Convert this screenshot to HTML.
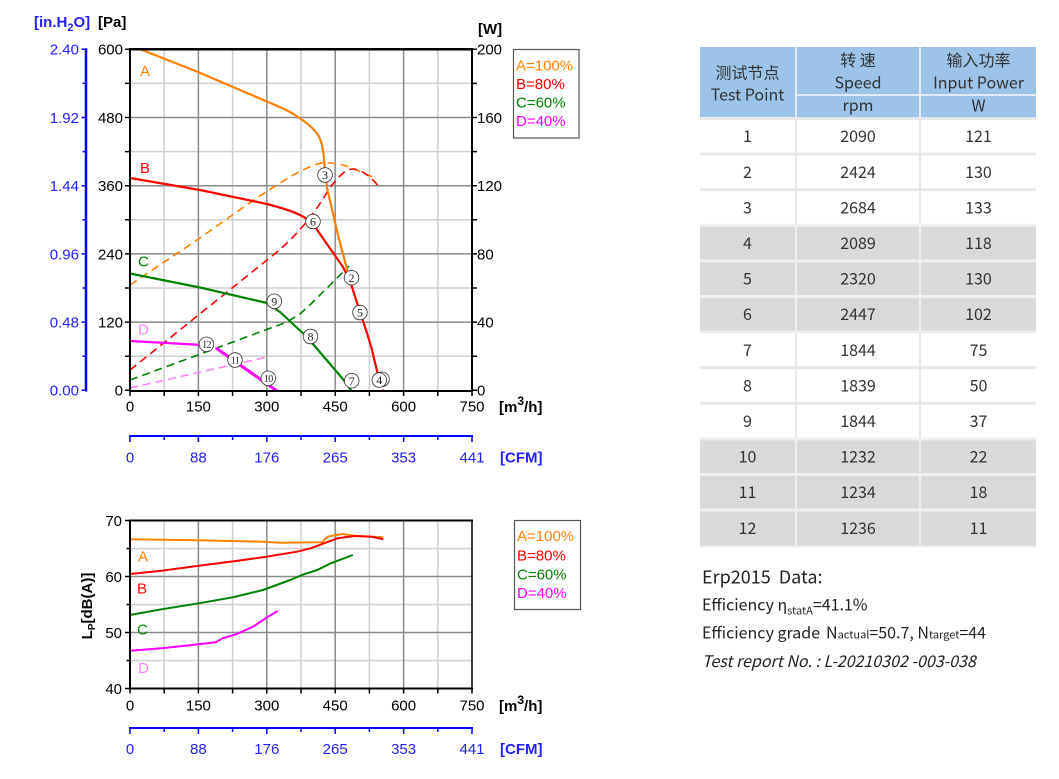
<!DOCTYPE html>
<html><head><meta charset="utf-8"><style>
html,body{margin:0;padding:0;background:#fff;}
svg{display:block;}
.ax{font-family:"Liberation Sans",Arial,sans-serif;font-size:15px;}
.b{font-weight:bold;}
.nt{font-family:"Noto Sans CJK SC","Liberation Sans",sans-serif;fill:#333;}
.cn{font-family:"Liberation Serif",serif;fill:#222;}
</style></head><body>
<svg width="1059" height="779" viewBox="0 0 1059 779" xmlns="http://www.w3.org/2000/svg">
<rect width="1059" height="779" fill="#fff"/>

<!-- ============ TOP CHART ============ -->
<g fill="none" stroke-width="1.5">
<path stroke="#cfcfcf" d="M164.2,49.3V391M232.6,49.3V391M301,49.3V391M369.4,49.3V391M437.8,49.3V391M130,356.2H472M130,288H472M130,219.8H472M130,151.6H472M130,83.4H472"/>
<path stroke="#8a8a8a" d="M198.4,49.3V391M266.8,49.3V391M335.2,49.3V391M403.6,49.3V391M130,322.1H472M130,253.9H472M130,185.7H472M130,117.5H472"/>
</g>

<g fill="none" stroke-linejoin="round" stroke-linecap="butt">
<path stroke="#ff8000" stroke-width="1.6" stroke-dasharray="8 5" d="M130,285 L200,238 L255,199 L280,183 Q305,167 323,162.5 Q340,163 352,168 L377,179"/>
<path stroke="#ff0000" stroke-width="1.6" stroke-dasharray="8 5" d="M130,370 L267,260 Q300,235 323,199 Q340,170 352,169 Q365,169 380,188"/>
<path stroke="#008000" stroke-width="1.6" stroke-dasharray="8 5" d="M130,380 L287,322 L300,314 L313,302 L349,266"/>
<path stroke="#ff80ff" stroke-width="1.6" stroke-dasharray="8 5" d="M130,388 L267,357"/>
<path stroke="#ff8000" stroke-width="2.2" d="M141,49.5 L198,72 L268,102 Q290,111 298,117 Q312,126 318,135 Q323,143 324,160 L327,188 L338,235 L348,273"/>
<path stroke="#ff0000" stroke-width="2.2" d="M130,178 L200,190 L267,204 Q290,210 300,215 Q308,219 313,224 L343,267 L350,281 L352,287 L360,312 L367,333 L372,350 L378,375"/>
<path stroke="#008000" stroke-width="2.2" d="M130,273.5 L200,287.5 L267,303 L280,312 L307,337 L342,378 L351,390"/>
<path stroke="#ff00ff" stroke-width="2.2" d="M130,341 L212,345.5"/>
<path stroke="#ff00ff" stroke-width="3" d="M216,348 L277,391"/>
</g>
<circle cx="383" cy="390.5" r="1.3" fill="#ff0000"/>
<circle cx="351" cy="390.5" r="1.3" fill="#008000"/>

<g stroke="#000" fill="none">
<path stroke-width="2.5" d="M129,49.3H473"/>
<path stroke-width="2" d="M130,48.5V392M472,48.5V392M129,391H473"/>
<path stroke-width="1.5" d="M125,390.3H130M125,356.2H130M125,322.1H130M125,288H130M125,253.9H130M125,219.8H130M125,185.7H130M125,151.6H130M125,117.5H130M125,83.4H130M125,49.3H130
M472,390.3H477M472,356.2H477M472,322.1H477M472,288H477M472,253.9H477M472,219.8H477M472,185.7H477M472,151.6H477M472,117.5H477M472,83.4H477M472,49.3H477
M130,391V396M164.2,391V396M198.4,391V396M232.6,391V396M266.8,391V396M301,391V396M335.2,391V396M369.4,391V396M403.6,391V396M437.8,391V396M472,391V396"/>
</g>
<g stroke="#0000ff" fill="none">
<path stroke-width="2.5" d="M86,48.3V391.5"/>
<path stroke-width="1.5" d="M81.5,390.3H86M82.5,356.2H86M81.5,322.1H86M82.5,288H86M81.5,253.9H86M82.5,219.8H86M81.5,185.7H86M82.5,151.6H86M81.5,117.5H86M82.5,83.4H86M81.5,49.3H86"/>
</g>

<g class="ax" fill="#000" text-anchor="end">
<text x="123" y="395.7">0</text><text x="123" y="327.5">120</text><text x="123" y="259.3">240</text><text x="123" y="191.1">360</text><text x="123" y="122.9">480</text><text x="123" y="54.7">600</text>
</g>
<g class="ax" fill="#1f1fff" text-anchor="end">
<text x="79" y="395.7">0.00</text><text x="79" y="327.5">0.48</text><text x="79" y="259.3">0.96</text><text x="79" y="191.1">1.44</text><text x="79" y="122.9">1.92</text><text x="79" y="54.7">2.40</text>
</g>
<g class="ax" fill="#000" text-anchor="start">
<text x="477" y="395.7">0</text><text x="477" y="327.5">40</text><text x="477" y="259.3">80</text><text x="477" y="191.1">120</text><text x="477" y="122.9">160</text><text x="477" y="54.7">200</text>
</g>
<g class="ax" fill="#000" text-anchor="middle">
<text x="130" y="411.4">0</text><text x="198.4" y="411.4">150</text><text x="266.8" y="411.4">300</text><text x="335.2" y="411.4">450</text><text x="403.6" y="411.4">600</text><text x="472" y="411.4">750</text>
</g>
<text class="ax b" x="499" y="412" fill="#000">[m<tspan font-size="12" dy="-7">3</tspan><tspan dy="7">/h]</tspan></text>
<text class="ax b" x="34" y="27" fill="#1f1fff">[in.H<tspan font-size="11" dy="4">2</tspan><tspan dy="-4">O]</tspan></text>
<text class="ax b" x="98" y="27" fill="#000">[Pa]</text>
<text class="ax b" x="478" y="34" fill="#000">[W]</text>

<g stroke="#0000ff" fill="none">
<path stroke-width="2" d="M129,436H473"/>
<path stroke-width="1.5" d="M130,436V442M164.2,436V440M198.4,436V442M232.6,436V440M266.8,436V442M301,436V440M335.2,436V442M369.4,436V440M403.6,436V442M437.8,436V440M472,436V442"/>
</g>
<g class="ax" fill="#1f1fff" text-anchor="middle">
<text x="130" y="462.4">0</text><text x="198.4" y="462.4">88</text><text x="266.8" y="462.4">176</text><text x="335.2" y="462.4">265</text><text x="403.6" y="462.4">353</text><text x="472" y="462.4">441</text>
</g>
<text class="ax b" x="500" y="462.4" fill="#1f1fff">[CFM]</text>

<g class="ax">
<text x="140" y="76" fill="#ff8000">A</text>
<text x="140" y="173" fill="#ff0000">B</text>
<text x="138" y="266.5" fill="#008000">C</text>
<text x="138" y="334.5" fill="#ff80ff">D</text>
</g>

<g stroke="#333" stroke-width="0.8" fill="#fff">
<circle cx="325" cy="175" r="7.3"/>
<circle cx="313" cy="221.5" r="7.3"/>
<circle cx="351.5" cy="277.7" r="7.3"/>
<circle cx="360" cy="312.5" r="7.3"/>
<circle cx="274.3" cy="301.3" r="7.3"/>
<circle cx="310.5" cy="336.5" r="7.3"/>
<circle cx="206.5" cy="344.3" r="7.3"/>
<circle cx="235" cy="360" r="7.3"/>
<circle cx="268.3" cy="378.3" r="7.3"/>
<circle cx="351.7" cy="380.7" r="7.3"/>
<circle cx="382" cy="379.3" r="7.3"/>
<circle cx="379.3" cy="380" r="7.3"/>
</g>
<g class="cn" text-anchor="middle" font-size="12">
<text x="325" y="179.2">3</text>
<text x="313" y="225.7">6</text>
<text x="351.5" y="281.9">2</text>
<text x="360" y="316.7">5</text>
<text x="274.3" y="305.5">9</text>
<text x="310.5" y="340.7">8</text>
<text x="351.7" y="384.9">7</text>
<text x="379.3" y="384.2">4</text>
</g>
<g class="cn" text-anchor="middle" font-size="10" letter-spacing="-0.6">
<text x="206.5" y="347.8">12</text>
<text x="235" y="363.5">11</text>
<text x="268.3" y="381.8">10</text>
</g>

<rect x="513.5" y="49.5" width="65.5" height="88.5" fill="#fff" stroke="#555" stroke-width="1.2"/>
<g class="ax">
<text x="516" y="70.5" fill="#ff8000">A=100%</text>
<text x="516" y="89" fill="#ff0000">B=80%</text>
<text x="516" y="107.5" fill="#008000">C=60%</text>
<text x="516" y="126" fill="#ff00ff">D=40%</text>
</g>

<!-- ============ BOTTOM CHART ============ -->
<g fill="none" stroke-width="1.5">
<path stroke="#cfcfcf" d="M164.2,520.5V688.5M232.6,520.5V688.5M301,520.5V688.5M369.4,520.5V688.5M437.8,520.5V688.5M130,548.5H472M130,604.5H472M130,660.5H472"/>
<path stroke="#8a8a8a" d="M198.4,520.5V688.5M266.8,520.5V688.5M335.2,520.5V688.5M403.6,520.5V688.5M130,576.5H472M130,632.5H472"/>
</g>
<g fill="none" stroke-width="2" stroke-linejoin="round">
<path stroke="#ff8000" d="M130,539.3 L195.3,540.3 L263.1,541.7 L280,542.7 L322.3,542.3 L327.4,536.7 L342.6,534 L354.5,535.7 L383.3,537.3"/>
<path stroke="#ff0000" d="M130,574 L161.5,570.7 L198.8,565.7 L236,561 L266.5,556.7 L297,551.7 L310.5,548.3 L324,543.3 L337.6,538.3 L354.5,536 L371.5,536.7 L383.3,539.3"/>
<path stroke="#008000" d="M130,615 L161.5,609.3 L198.8,603.3 L232.7,597.3 L263.1,590 L290.2,580 L303.7,574.3 L317.3,570 L330.8,563.3 L352.8,555"/>
<path stroke="#ff00ff" d="M130,650.7 L161.5,648.3 L198.8,644.3 L215.7,642.3 L222.5,638.3 L236,634.3 L253,626.7 L266.5,617.7 L277.7,611"/>
</g>
<g stroke="#000" fill="none">
<path stroke-width="2" d="M129,520.5H473M130,519.5V689.5M129,688.5H473"/>
<path stroke-width="1.5" d="M472,520V689"/>
<path stroke-width="1.5" d="M125,688.5H130M126.5,660.5H130M125,632.5H130M126.5,604.5H130M125,576.5H130M126.5,548.5H130M125,520.5H130
M130,688.5V693.5M164.2,688.5V693.5M198.4,688.5V693.5M232.6,688.5V693.5M266.8,688.5V693.5M301,688.5V693.5M335.2,688.5V693.5M369.4,688.5V693.5M403.6,688.5V693.5M437.8,688.5V693.5M472,688.5V693.5"/>
</g>
<g class="ax" fill="#000" text-anchor="end">
<text x="122" y="525.9">70</text><text x="122" y="581.9">60</text><text x="122" y="637.9">50</text><text x="122" y="693.9">40</text>
</g>
<g class="ax" fill="#000" text-anchor="middle">
<text x="130" y="710.4">0</text><text x="198.4" y="710.4">150</text><text x="266.8" y="710.4">300</text><text x="335.2" y="710.4">450</text><text x="403.6" y="710.4">600</text><text x="472" y="710.4">750</text>
</g>
<text class="ax b" x="499" y="711" fill="#000">[m<tspan font-size="12" dy="-7">3</tspan><tspan dy="7">/h]</tspan></text>
<text class="ax b" transform="translate(92,606) rotate(-90)" text-anchor="middle" fill="#000">L<tspan font-size="10" dy="3">P</tspan><tspan dy="-3">[dB(A)]</tspan></text>

<g stroke="#0000ff" fill="none">
<path stroke-width="2" d="M129,728H473"/>
<path stroke-width="1.5" d="M130,728V734M164.2,728V732M198.4,728V734M232.6,728V732M266.8,728V734M301,728V732M335.2,728V734M369.4,728V732M403.6,728V734M437.8,728V732M472,728V734"/>
</g>
<g class="ax" fill="#1f1fff" text-anchor="middle">
<text x="130" y="753.9">0</text><text x="198.4" y="753.9">88</text><text x="266.8" y="753.9">176</text><text x="335.2" y="753.9">265</text><text x="403.6" y="753.9">353</text><text x="472" y="753.9">441</text>
</g>
<text class="ax b" x="500" y="753.9" fill="#1f1fff">[CFM]</text>

<g class="ax">
<text x="138" y="561.5" fill="#ff8000">A</text>
<text x="137" y="593.5" fill="#ff0000">B</text>
<text x="137" y="634.5" fill="#008000">C</text>
<text x="138" y="673" fill="#ff80ff">D</text>
</g>

<rect x="514.5" y="520.5" width="66" height="89" fill="#fff" stroke="#555" stroke-width="1.2"/>
<g class="ax">
<text x="517" y="541.2" fill="#ff8000">A=100%</text>
<text x="517" y="560.4" fill="#ff0000">B=80%</text>
<text x="517" y="579.6" fill="#008000">C=60%</text>
<text x="517" y="598" fill="#ff00ff">D=40%</text>
</g>

<!-- ============ TABLE ============ -->
<rect x="700" y="47" width="336" height="70" fill="#e3eaf2"/>
<g fill="#9dc3e6">
<rect x="700" y="47" width="95" height="70"/>
<rect x="797" y="47" width="122" height="47"/>
<rect x="921" y="47" width="115" height="47"/>
<rect x="797" y="96" width="122" height="21.3"/>
<rect x="921" y="96" width="115" height="21.3"/>
</g>
<rect x="700" y="117.3" width="336" height="430" fill="#e8e8e8"/>
<rect x="700" y="223.6" width="336" height="110" fill="#efefef"/>
<rect x="700" y="437.2" width="336" height="110" fill="#efefef"/>
<g>
<rect x="700" y="120" width="95" height="32.6" fill="#fff"/><rect x="797" y="120" width="122" height="32.6" fill="#fff"/><rect x="921" y="120" width="115" height="32.6" fill="#fff"/>
<rect x="700" y="155.6" width="95" height="32.6" fill="#fff"/><rect x="797" y="155.6" width="122" height="32.6" fill="#fff"/><rect x="921" y="155.6" width="115" height="32.6" fill="#fff"/>
<rect x="700" y="191.2" width="95" height="32.6" fill="#fff"/><rect x="797" y="191.2" width="122" height="32.6" fill="#fff"/><rect x="921" y="191.2" width="115" height="32.6" fill="#fff"/>
<rect x="700" y="226.8" width="95" height="32.6" fill="#d9d9d9"/><rect x="797" y="226.8" width="122" height="32.6" fill="#d9d9d9"/><rect x="921" y="226.8" width="115" height="32.6" fill="#d9d9d9"/>
<rect x="700" y="262.4" width="95" height="32.6" fill="#d9d9d9"/><rect x="797" y="262.4" width="122" height="32.6" fill="#d9d9d9"/><rect x="921" y="262.4" width="115" height="32.6" fill="#d9d9d9"/>
<rect x="700" y="298" width="95" height="32.6" fill="#d9d9d9"/><rect x="797" y="298" width="122" height="32.6" fill="#d9d9d9"/><rect x="921" y="298" width="115" height="32.6" fill="#d9d9d9"/>
<rect x="700" y="333.6" width="95" height="32.6" fill="#fff"/><rect x="797" y="333.6" width="122" height="32.6" fill="#fff"/><rect x="921" y="333.6" width="115" height="32.6" fill="#fff"/>
<rect x="700" y="369.2" width="95" height="32.6" fill="#fff"/><rect x="797" y="369.2" width="122" height="32.6" fill="#fff"/><rect x="921" y="369.2" width="115" height="32.6" fill="#fff"/>
<rect x="700" y="404.8" width="95" height="32.6" fill="#fff"/><rect x="797" y="404.8" width="122" height="32.6" fill="#fff"/><rect x="921" y="404.8" width="115" height="32.6" fill="#fff"/>
<rect x="700" y="440.4" width="95" height="32.6" fill="#d9d9d9"/><rect x="797" y="440.4" width="122" height="32.6" fill="#d9d9d9"/><rect x="921" y="440.4" width="115" height="32.6" fill="#d9d9d9"/>
<rect x="700" y="476" width="95" height="32.6" fill="#d9d9d9"/><rect x="797" y="476" width="122" height="32.6" fill="#d9d9d9"/><rect x="921" y="476" width="115" height="32.6" fill="#d9d9d9"/>
<rect x="700" y="511.6" width="95" height="34" fill="#d9d9d9"/><rect x="797" y="511.6" width="122" height="34" fill="#d9d9d9"/><rect x="921" y="511.6" width="115" height="34" fill="#d9d9d9"/>
</g>

<g class="nt" font-size="16" text-anchor="middle">
<text x="747.5" y="78.5">测试节点</text>
<text x="747.5" y="100.5">Test Point</text>
<text x="858" y="66" style="white-space:pre">转 速</text>
<text x="858" y="88.3">Speed</text>
<text x="858" y="111">rpm</text>
<text x="978.5" y="66">输入功率</text>
<text x="978.5" y="88.3">Input Power</text>
<text x="978.5" y="111.5">W</text>

<text x="747.5" y="142.2">1</text><text x="858" y="142.2">2090</text><text x="978.5" y="142.2">121</text>
<text x="747.5" y="177.8">2</text><text x="858" y="177.8">2424</text><text x="978.5" y="177.8">130</text>
<text x="747.5" y="213.4">3</text><text x="858" y="213.4">2684</text><text x="978.5" y="213.4">133</text>
<text x="747.5" y="249">4</text><text x="858" y="249">2089</text><text x="978.5" y="249">118</text>
<text x="747.5" y="284.6">5</text><text x="858" y="284.6">2320</text><text x="978.5" y="284.6">130</text>
<text x="747.5" y="320.2">6</text><text x="858" y="320.2">2447</text><text x="978.5" y="320.2">102</text>
<text x="747.5" y="355.8">7</text><text x="858" y="355.8">1844</text><text x="978.5" y="355.8">75</text>
<text x="747.5" y="391.4">8</text><text x="858" y="391.4">1839</text><text x="978.5" y="391.4">50</text>
<text x="747.5" y="427">9</text><text x="858" y="427">1844</text><text x="978.5" y="427">37</text>
<text x="747.5" y="462.6">10</text><text x="858" y="462.6">1232</text><text x="978.5" y="462.6">22</text>
<text x="747.5" y="498.2">11</text><text x="858" y="498.2">1234</text><text x="978.5" y="498.2">18</text>
<text x="747.5" y="533.8">12</text><text x="858" y="533.8">1236</text><text x="978.5" y="533.8">11</text>
</g>

<g class="nt" style="fill:#222">
<text x="702" y="583.3" font-size="18" style="white-space:pre">Erp2015  Data:</text>
<text x="702" y="610.7" font-size="16" style="white-space:pre">Efficiency η<tspan font-size="11" dy="4">statA</tspan><tspan dy="-4">=41.1%</tspan></text>
<text x="702" y="638.3" font-size="16">Efficiency grade</text>
<text x="826" y="638.3" font-size="16" style="white-space:pre">N<tspan font-size="11">actual</tspan>=50.7, N<tspan font-size="11">target</tspan>=44</text>
<text x="702" y="667" font-size="16" font-style="italic" style="white-space:pre">Test report No. : L-20210302 -003-038</text>
</g>
</svg>
</body></html>
